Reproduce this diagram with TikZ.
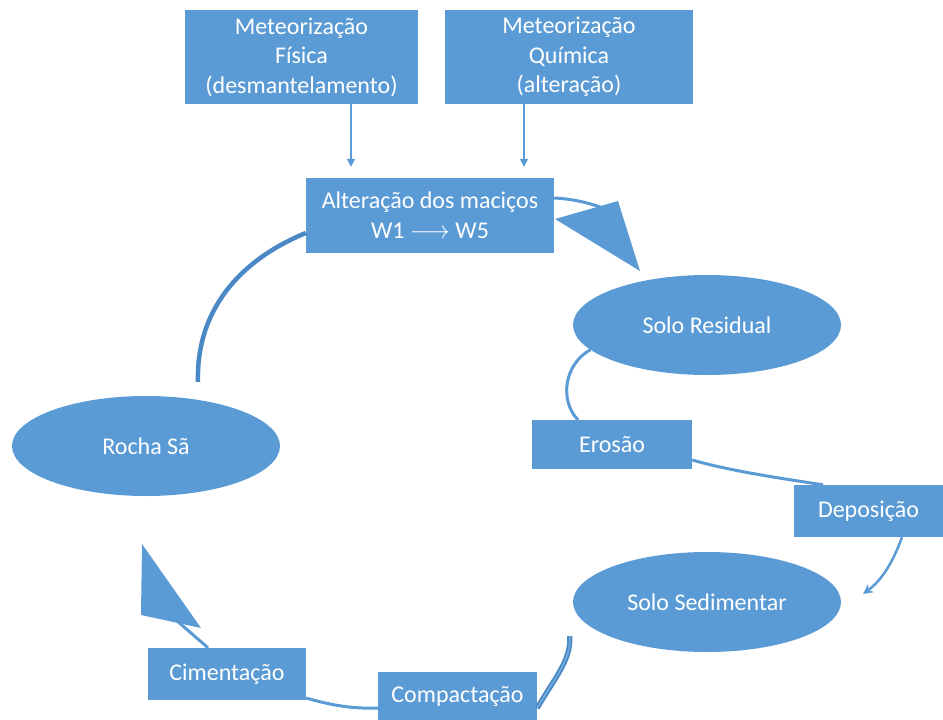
\documentclass[tikz,border=0pt]{standalone}
\usepackage{fontspec}
\setmainfont{Carlito}
\usetikzlibrary{shapes.geometric,arrows.meta}
\definecolor{cblue}{HTML}{5B9BD5}
\definecolor{cdark}{HTML}{4A88C6}
\begin{document}
\begin{tikzpicture}[x=1pt,y=-1pt,
  box/.style={fill=cblue,draw=none,text=white,inner sep=0pt,align=center,font=\fontsize{24}{29.5}\selectfont},
  oval/.style={ellipse,fill=cblue,draw=none,text=white,inner sep=0pt,font=\fontsize{24}{28}\selectfont,minimum width=268pt,minimum height=100pt},
  link/.style={draw=cblue,line width=3pt},
  heavy/.style={draw=cdark,line width=1.8pt,double=cblue!85!white,double distance=1.6pt},
  solidheavy/.style={draw=cdark,line width=4.5pt},
  thinarrow/.style={draw=cblue,line width=1.5pt,-{Triangle[length=8pt,width=8pt]}},
  bigtip/.style={fill=cblue,draw=none},
]
\useasboundingbox (0,0) rectangle (943,720);

\node[box,minimum width=233pt,minimum height=94pt] (mf) at (301.5,57) {Meteorização\\Física\\(desmantelamento)};
\node[box,minimum width=248pt,minimum height=94pt] (mq) at (569,57) {Meteorização\\Química\\(alteração)};
\node[box,minimum width=248pt,minimum height=75pt,font=\fontsize{24}{30}\selectfont] (ar) at (430,215.5) {Alteração dos maciços\\W1 $\longrightarrow$ W5};
\node[oval] (sr) at (707,325) {Solo Residual};
\node[box,minimum width=160pt,minimum height=49pt] (er) at (612,444.5) {Erosão};
\node[box,minimum width=149pt,minimum height=52pt] (dep) at (868.5,511) {Deposição};
\node[oval] (ss) at (707,602) {Solo Sedimentar};
\node[box,minimum width=159pt,minimum height=48pt] (comp) at (457.5,696) {Compactação};
\node[box,minimum width=158pt,minimum height=52pt] (cim) at (227,674) {Cimentação};
\node[oval] (rs) at (146,446) {Rocha Sã};

% top arrows
\draw[thinarrow] ([xshift=49.5pt]mf.south) -- ([xshift=-79pt,yshift=11pt]ar.north);
\draw[thinarrow] ([xshift=-45pt]mq.south) -- ([xshift=94pt,yshift=11pt]ar.north);

% Alteração -> Solo Residual
\draw[link] ([yshift=17.5pt]ar.east) .. controls (575,199) and (595,204) .. (612,212);
\coordinate (t1a) at (555,219);
\coordinate (t1b) at (618,201);
\coordinate (t1c) at (640,271);
\fill[bigtip] (t1a) -- (t1b) -- (t1c) -- cycle;

% Solo Residual -> Erosão
\draw[link] (sr.192) .. controls (563,365) and (560,402) .. ([xshift=-34pt]er.north);

% Erosão -> Deposição
\draw[link] ([yshift=-15.5pt]er.east) .. controls (730,471) and (785,479) .. ([xshift=-45.5pt]dep.north);

% Deposição -> Solo Sedimentar
\coordinate (dtip) at (863,594);
\draw[draw=cblue,line width=2.5pt,-{Stealth[length=10pt,width=10pt]}] ([xshift=33.5pt]dep.south) .. controls (893,562) and (882,580) .. (dtip);

% Solo Sedimentar -> Compactação
\draw[heavy] ([xshift=-3pt,yshift=-34pt]ss.west) .. controls (571,660) and (556,676) .. ([yshift=-12pt]comp.east);

% Compactação -> Cimentação
\draw[link] ([yshift=-12pt]comp.west) .. controls (352,709) and (330,705) .. ([yshift=-24pt]cim.east);

% Cimentação -> Rocha Sã
\draw[link] ([xshift=-19pt]cim.north) -- (176,620);
\coordinate (t2a) at (142,544);
\coordinate (t2b) at (141,615);
\coordinate (t2c) at (201,628);
\fill[bigtip] (t2a) -- (t2b) -- (t2c) -- cycle;

% Rocha Sã -> Alteração
\draw[solidheavy] ([xshift=52pt,yshift=14pt]rs.north) .. controls (196,310) and (240,260) .. ([yshift=-17.5pt]ar.west);
\end{tikzpicture}
\end{document}
